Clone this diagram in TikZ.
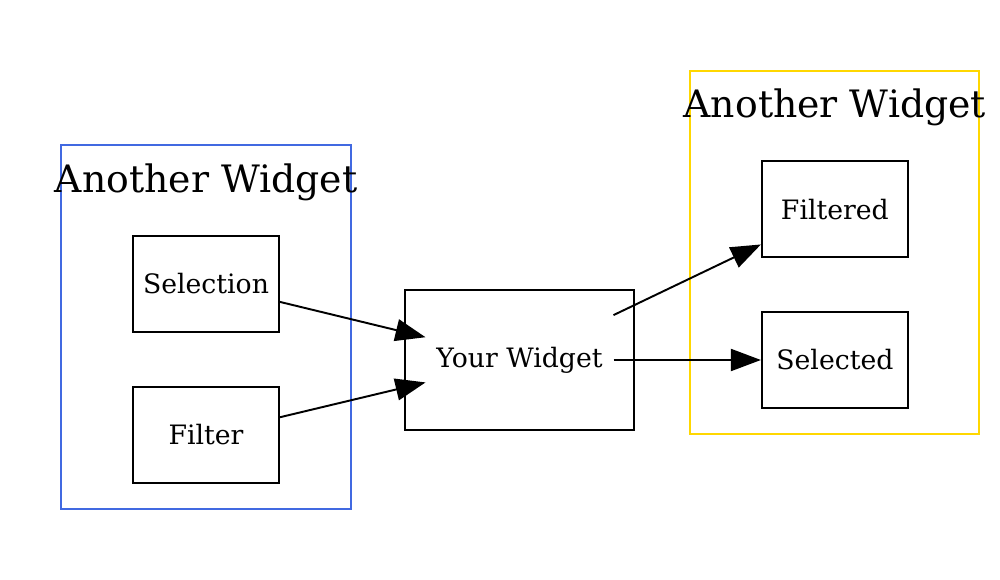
\documentclass[tikz,border=0pt]{standalone}
\usepackage{fontspec}
\setmainfont{DejaVu Serif}
\usepackage{tikz}
\usetikzlibrary{arrows.meta, positioning, calc}
\definecolor{clusterblue}{HTML}{4169E1}
\definecolor{clustergold}{HTML}{FFD700}
\newcommand\widgetfont{\fontsize{15.2}{18}\selectfont}
\newcommand\clusterfont{\fontsize{21.5}{26}\selectfont}
\tikzset{
    widgetdiagram/.style={x=0.02cm, y=-0.02cm, >={Triangle[length=0.6cm, width=0.44cm]}, line width=1.1pt, font=\widgetfont},
    block/.style={draw, minimum width=2.92cm, minimum height=1.92cm, align=center},
    bigblock/.style={block, minimum width=4.58cm, minimum height=2.8cm},
    % text of a block, used as the port the edges attach to
    port/.style={inner xsep=0.2cm, minimum height=2cm},
    cluster/.style={draw, line width=1.1pt},
    clustertitle/.style={font=\clusterfont},
}

\begin{document}
\begin{tikzpicture}[widgetdiagram]
    \useasboundingbox (0,0) rectangle (1000,580);

    \node[block]                        (sel)    at (206,284) {Selection};
    \node[block, below=1.06cm of sel]   (flt)    {Filter};
    \node[bigblock]                     (yw)     at (519.5,360) {};
    \node[port]                         (ywtext) at (yw) {Your Widget};
    \node[block, right=2.52cm of yw]    (sld)    {Selected};
    \node[block, above=1.06cm of sld]   (fld)    {Filtered};

    % clusters
    \draw[cluster, clusterblue] ($(sel.north west)+(-71,-90)$) rectangle ($(flt.south east)+(71,25)$);
    \node[clustertitle] (lefttitle) at ($(sel.north)+(0,-53)$) {Another Widget};
    \draw[cluster, clustergold] ($(fld.north west)+(-71,-89)$) rectangle ($(sld.south east)+(70,25)$);
    \node[clustertitle] (righttitle) at ($(fld.north)+(0,-53)$) {Another Widget};

    \draw[->] (sel) -- (ywtext);
    \draw[->] (flt) -- (ywtext);
    \draw[->] (ywtext) -- (fld);
    \draw[->] (ywtext) -- (sld);
\end{tikzpicture}
\end{document}
